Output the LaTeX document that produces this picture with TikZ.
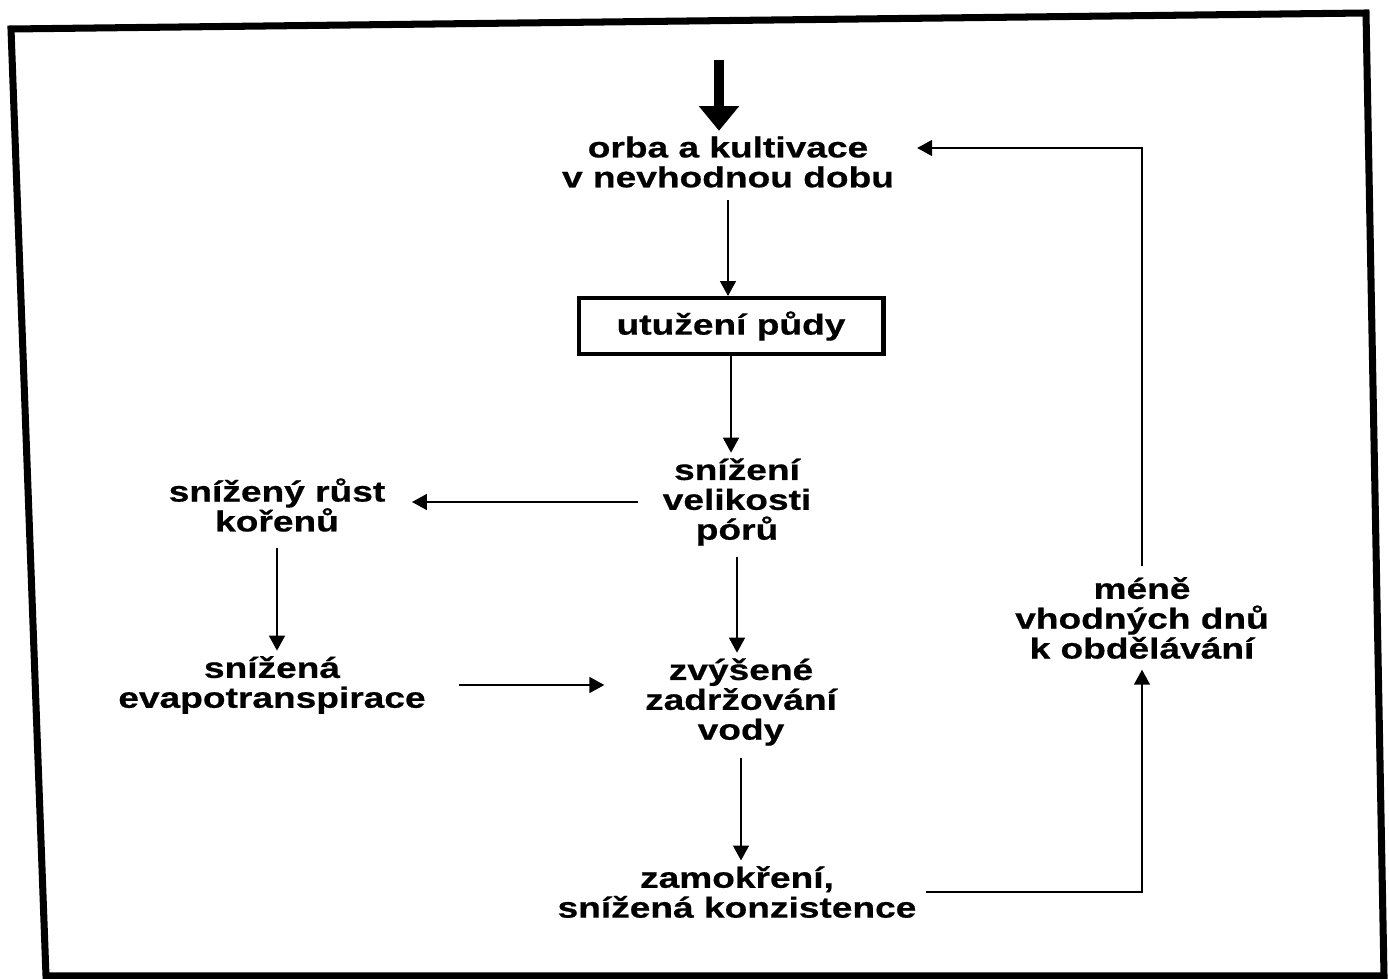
\documentclass[tikz,border=0pt]{standalone}
\usepackage{fontspec}
\setmainfont{Liberation Sans}[FakeStretch=1.28, BoldFeatures={FakeBold=0.6}]
\usepackage{tikz}
\usetikzlibrary{arrows.meta,positioning}

\tikzset{
  cause/.style={font=\bfseries\fontsize{16.5}{17}\selectfont, align=center, inner sep=3pt},
  flow/.style={-{Triangle[length=8.5pt,width=9pt]}, line width=1.1pt},
  bigflow/.style={-{Triangle[length=14pt,width=22pt]}, line width=5.5pt}
}

\begin{document}
\begin{tikzpicture}[x=0.02cm, y=-0.02cm]
\useasboundingbox (0,0) rectangle (1389,979);
% outer frame
\draw[line width=4pt, line join=miter] (11,29) -- (1366,13) -- (1384,976) -- (46,976) -- cycle;

% nodes
\node[cause] (orba) at (728,162) {orba a kultivace\\v nevhodnou dobu};
\node[cause, draw, line width=2.3pt, minimum width=6.1cm, minimum height=1.12cm] (utuzeni) at (731,326) {utužení půdy};
\node[cause] (pory) at (737,502) {snížení\\velikosti\\pórů};
\node[cause] (koreny) at (277,505) {snížený růst\\kořenů};
\node[cause] (evapo) at (272,685) {snížená\\evapotranspirace};
\node[cause] (voda) at (741,702) {zvýšené\\zadržování\\vody};
\node[cause] (zamok) at (737,892) {zamokření,\\snížená konzistence};
\node[cause] (dny) at (1142,618) {méně\\vhodných dnů\\k obdělávání};
\coordinate (vstup) at (719,60);

% connectors
\draw[bigflow] (vstup) -- (vstup |- orba.north);
\draw[flow, shorten <=4pt] (orba.south) -- (orba.south |- utuzeni.north);
\draw[flow] (utuzeni.south) -- (utuzeni.south |- pory.north);
\draw[flow, shorten <=11pt, shorten >=12pt] (pory.west) -- (pory.west -| koreny.east);
\draw[flow, shorten <=6pt] (koreny.south) -- (koreny.south |- evapo.north);
\draw[flow, shorten <=16pt, shorten >=20pt] (evapo.east) -- (evapo.east -| voda.west);
\draw[flow, shorten <=3pt] (pory.south) -- (pory.south |- voda.north);
\draw[flow, shorten <=4pt] (voda.south) -- (voda.south |- zamok.north);
\draw[flow, shorten <=2pt, shorten >=3pt] (zamok.east) -| (dny.south);
\draw[flow, shorten <=3pt, shorten >=10pt] (dny.north) |- ([yshift=0.28cm]orba.east);
\end{tikzpicture}
\end{document}
